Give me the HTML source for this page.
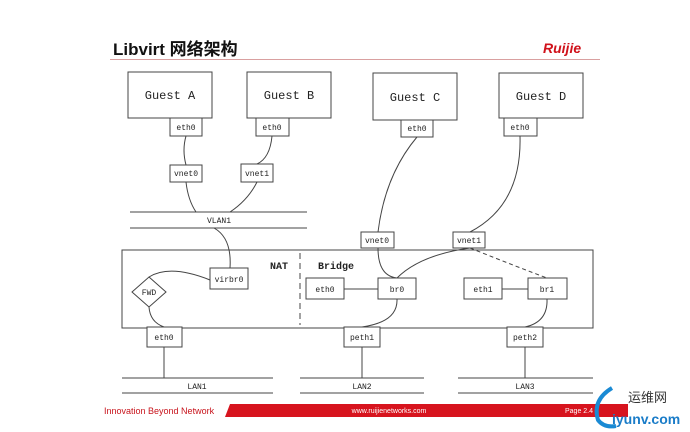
<!DOCTYPE html>
<html><head><meta charset="utf-8"><style>
html,body{margin:0;padding:0;background:#fff;}
svg{display:block;}
.m{font-family:"Liberation Mono",monospace;fill:#222;}
</style></head><body>
<svg width="690" height="432" viewBox="0 0 690 432" xmlns="http://www.w3.org/2000/svg">
<rect width="690" height="432" fill="#fff"/>
<text x="113" y="55" font-family="Liberation Sans,'Noto Sans CJK SC',sans-serif" font-weight="bold" font-size="17" fill="#111">Libvirt 网络架构</text>
<line x1="110" y1="59.5" x2="600" y2="59.5" stroke="#d9a0a0" stroke-width="1"/>
<text x="543" y="53" font-family="Liberation Sans,sans-serif" font-weight="bold" font-style="italic" font-size="14" fill="#d0121b">Ruijie</text>
<g fill="#fff" stroke="#444" stroke-width="1">
<rect x="128" y="72" width="84" height="46"/>
<rect x="247" y="72" width="84" height="46"/>
<rect x="373" y="73" width="84" height="47"/>
<rect x="499" y="73" width="84" height="45"/>
<rect x="170" y="118" width="32" height="18"/>
<rect x="256" y="118" width="33" height="18"/>
<rect x="401" y="120" width="32" height="17"/>
<rect x="504" y="118" width="33" height="18"/>
<rect x="170" y="165" width="32" height="17"/>
<rect x="241" y="164" width="32" height="18"/>
<rect x="122" y="250" width="471" height="78"/>
</g>
<g stroke="#444" fill="none" stroke-width="1">
<line x1="130" y1="212" x2="307" y2="212"/><line x1="130" y1="228" x2="307" y2="228"/>
<line x1="300" y1="253" x2="300" y2="325" stroke-dasharray="6,4"/>
<path d="M186 136 Q182 150 186 165"/>
<path d="M186 182 Q188 200 196 212"/>
<path d="M272 136 Q270 158 257 164"/>
<path d="M257 182 Q248 200 230 212"/>
<path d="M214 228 Q232 238 230 268"/>
<path d="M210 280 Q170 264 149 277"/>
<path d="M149 307 Q150 322 164 327"/>
<path d="M417 137 Q385 175 378 232"/>
<path d="M520 136 Q522 205 470 232"/>
<path d="M378 248 Q378 276 397 278"/>
<path d="M470 248 Q420 255 397 278"/>
<path d="M470 248 Q520 268 547 278" stroke-dasharray="4,3"/>
<path d="M397 299 Q398 322 362 327"/>
<path d="M547 299 Q548 322 525 327"/>
<line x1="344" y1="289" x2="378" y2="289"/>
<line x1="502" y1="289" x2="528" y2="289"/>
<line x1="164" y1="347" x2="164" y2="378"/>
<line x1="362" y1="347" x2="362" y2="378"/>
<line x1="525" y1="347" x2="525" y2="378"/>
<line x1="122" y1="378" x2="273" y2="378"/><line x1="122" y1="393" x2="273" y2="393"/>
<line x1="300" y1="378" x2="424" y2="378"/><line x1="300" y1="393" x2="424" y2="393"/>
<line x1="458" y1="378" x2="593" y2="378"/><line x1="458" y1="393" x2="593" y2="393"/>
</g>
<g fill="#fff" stroke="#444" stroke-width="1">
<rect x="361" y="232" width="33" height="16"/>
<rect x="453" y="232" width="32" height="16"/>
<rect x="210" y="268" width="38" height="21"/>
<polygon points="149,277 166,292 149,307 132,292"/>
<rect x="306" y="278" width="38" height="21"/>
<rect x="378" y="278" width="38" height="21"/>
<rect x="464" y="278" width="38" height="21"/>
<rect x="528" y="278" width="39" height="21"/>
<rect x="147" y="327" width="35" height="20"/>
<rect x="344" y="327" width="36" height="20"/>
<rect x="507" y="327" width="36" height="20"/>
</g>
<g class="m" text-anchor="middle" font-size="12">
<text x="170" y="99">Guest A</text><text x="289" y="99">Guest B</text>
<text x="415" y="101">Guest C</text><text x="541" y="100">Guest D</text>
</g>
<g class="m" text-anchor="middle" font-size="8">
<text x="186" y="130">eth0</text><text x="272" y="130">eth0</text>
<text x="417" y="131">eth0</text><text x="520" y="130">eth0</text>
<text x="186" y="176">vnet0</text><text x="257" y="176">vnet1</text>
<text x="219" y="223">VLAN1</text>
<text x="377" y="243">vnet0</text><text x="469" y="243">vnet1</text>
<text x="229" y="282">virbr0</text><text x="149" y="295">FWD</text>
<text x="325" y="292">eth0</text><text x="397" y="292">br0</text>
<text x="483" y="292">eth1</text><text x="547" y="292">br1</text>
<text x="164" y="340">eth0</text><text x="362" y="340">peth1</text><text x="525" y="340">peth2</text>
<text x="197" y="389">LAN1</text><text x="362" y="389">LAN2</text><text x="525" y="389">LAN3</text>
</g>
<text x="270" y="269" class="m" font-size="10" font-weight="bold">NAT</text>
<text x="318" y="269" class="m" font-size="10" font-weight="bold">Bridge</text>
<text x="104" y="414" font-family="Liberation Sans,sans-serif" font-size="9" fill="#c8141c">Innovation Beyond Network</text>
<polygon points="230,404 628,404 628,417 225,417" fill="#d7141e"/>
<text x="389" y="413" text-anchor="middle" font-family="Liberation Sans,sans-serif" font-size="7" fill="#fff">www.ruijienetworks.com</text>
<text x="565" y="413" font-family="Liberation Sans,sans-serif" font-size="7" fill="#fff">Page 2.4</text>
<path d="M612 388 Q592 400 598 420 Q604 428 616 426" stroke="#1a8ad4" stroke-width="4" fill="none"/>
<text x="628" y="402" font-family="'Noto Sans CJK SC',sans-serif" font-size="13" fill="#333">运维网</text>
<text x="612" y="424" font-family="Liberation Sans,sans-serif" font-weight="bold" font-size="14" fill="#1a7cc8">iyunv.com</text>
</svg>
</body></html>
